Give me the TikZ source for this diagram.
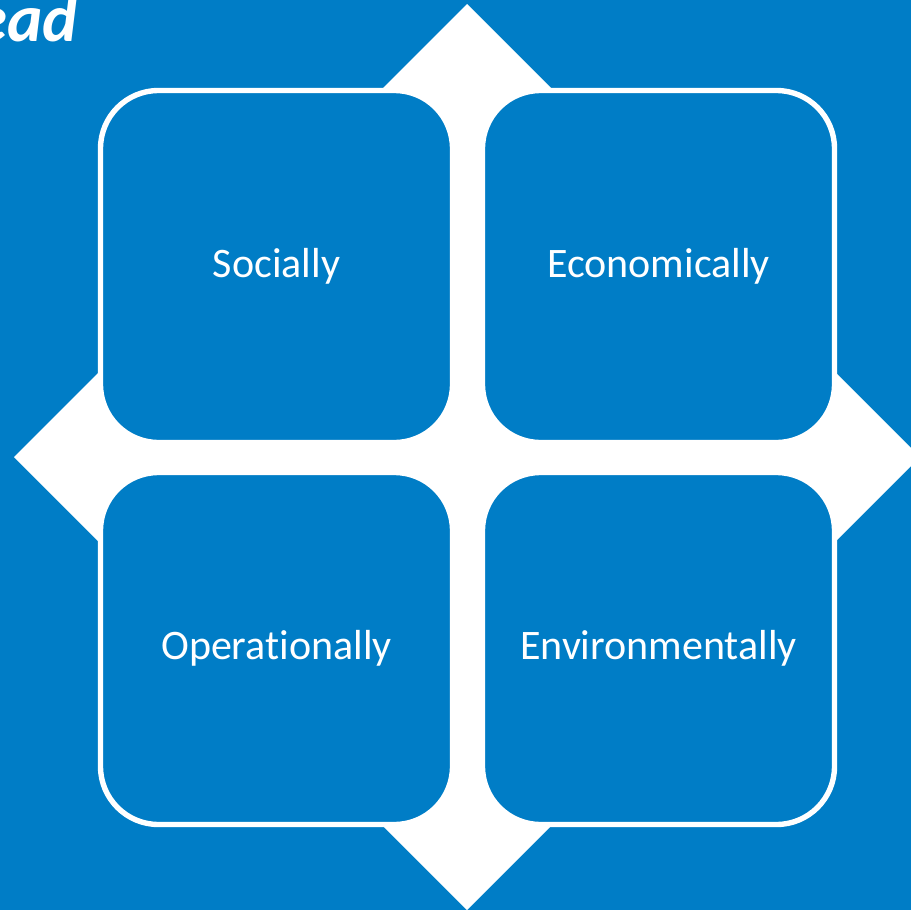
\documentclass[tikz,border=0pt]{standalone}
\usepackage{fontspec}
\setmainfont{Carlito}[Ligatures=NoCommon]
\definecolor{bg}{HTML}{007DC6}
\begin{document}
\begin{tikzpicture}[x=1pt,y=-1pt,
  card/.style={draw=white, line width=5.4pt, fill=bg, rounded corners=58pt,
    minimum width=352pt, minimum height=352pt, inner sep=0pt, text=white,
    text height=22.4pt, text depth=0pt,
    font=\fontsize{42}{50}\selectfont},
  titletext/.style={anchor=base east, inner sep=0pt, text=white,
    font=\fontsize{67}{77}\selectfont\bfseries\itshape}]
\useasboundingbox (0,0) rectangle (911,910);
\fill[bg] (0,0) rectangle (911,910);
\clip (0,0) rectangle (911,910);
\fill[white] (467,4) -- (920,457) -- (467,910) -- (14,457) -- cycle;
\node[titletext] (title) at (78,41) {ead};
\node[card] (soc) at (276.5,266.5) {Socially};
\node[card] (eco) at (658.5,266.5) {Economically};
\node[card] (ope) at (276.5,648.5) {Operationally};
\node[card] (env) at (658.5,648.5) {Environmentally};
\end{tikzpicture}
\end{document}
